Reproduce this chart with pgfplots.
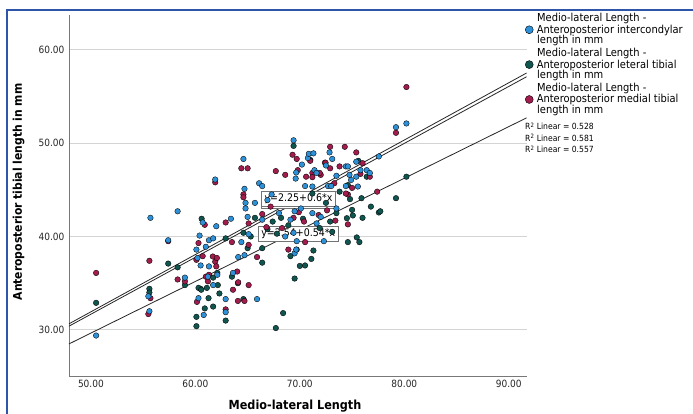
\documentclass[border=0pt]{standalone}
\usepackage{pgfplots}
\pgfplotsset{compat=1.18}
\usepackage{fontspec}
\setmainfont{DejaVu Sans Condensed}
\definecolor{cblue}{RGB}{46,145,215}
\definecolor{cteal}{RGB}{16,86,80}
\definecolor{cred}{RGB}{163,28,78}
\definecolor{frameblue}{RGB}{45,85,170}
\definecolor{axgray}{RGB}{120,120,120}
\definecolor{gridgray}{RGB}{212,212,212}
\newcommand\lt{\rule[-3.3pt]{0pt}{11.6pt}}
\begin{document}
\begin{tikzpicture}[x=1pt,y=1pt]
\useasboundingbox (0,0) rectangle (693,414);
\fill[white] (0,0) rectangle (693,414);
\draw[frameblue, line width=1.2pt] (7,0) -- (7,404) -- (693,404);
\begin{axis}[
 at={(66,40)}, anchor=south west, scale only axis, width=457.6pt, height=362pt,
 xmin=47.9, xmax=91.7, ymin=25, ymax=63.75,
 axis x line*=bottom, axis y line*=left,
 axis line style={draw=axgray, line width=0.9pt, -},
 xtick={50,60,70,80,90}, xticklabels={50.00,60.00,70.00,80.00,90.00},
 ytick={30,40,50,60}, yticklabels={30.00,40.00,50.00,60.00},
 major tick length=0pt,
 ymajorgrids, grid style={draw=gridgray, line width=1pt},
 ticklabel style={font=\fontsize{10}{12}\selectfont, text=black!85},
 xticklabel style={yshift=0pt},
 yticklabel style={xshift=-1pt},
 legend image code/.code={\draw[#1] plot coordinates {(0pt,0pt)};},
 legend style={at={(1,1)}, anchor=north west, xshift=-1.5pt, yshift=-10pt,
   draw=none, fill=none, inner sep=0pt, row sep=25pt, column sep=3.5pt,
   font=\fontsize{11}{12}\selectfont, nodes={inner sep=0pt}},
 legend cell align=left,
 mdot/.style={only marks, mark=*, mark size=2.8pt, mark options={draw=black, line width=0.35pt, fill=#1}},
]
\addlegendimage{only marks, mark=*, mark size=4pt, mark options={draw=black, line width=0.4pt, fill=cblue}}
\addlegendentry{\lt Anteroposterior intercondylar}
\addlegendimage{only marks, mark=*, mark size=4pt, mark options={draw=black, line width=0.4pt, fill=cteal}}
\addlegendentry{\lt Anteroposterior leteral tibial}
\addlegendimage{only marks, mark=*, mark size=4pt, mark options={draw=black, line width=0.4pt, fill=cred}}
\addlegendentry{\lt Anteroposterior medial tibial}

\addplot[forget plot, black!85, line width=0.8pt] coordinates {(47.9,30.65) (91.7,57.5)};
\addplot[forget plot, black!85, line width=0.8pt] coordinates {(47.9,30.4) (91.7,57.1)};
\addplot[forget plot, black!85, line width=0.8pt] coordinates {(47.9,28.5) (91.7,52.7)};

% teal
\addplot[forget plot, mdot=cteal] coordinates {
(50.5,32.9) (55.6,34.4) (55.6,34.0) (57.4,37.1) (58.3,36.7) (59.0,34.8) (60.1,31.4) (60.1,30.4)
(60.5,34.4) (60.3,34.5) (60.56,34.3) (60.6,41.9) (60.9,32.3) (61.1,34.5) (61.26,33.4) (61.7,32.5)
(61.7,35.6) (62.1,36.1) (62.15,34.8) (62.3,33.9) (62.9,31.0) (62.9,39.8) (63.5,35.7) (64.07,35.0)
(64.6,33.3) (64.6,40.4) (65.0,38.75) (65.3,40.0) (65.7,42.0) (66.4,38.75) (66.4,37.2) (67.4,41.6)
(67.7,30.2) (68.4,31.8) (69.1,37.9) (69.5,35.5) (69.7,38.6) (70.0,36.85) (70.5,36.9) (71.1,37.6)
(71.3,38.5) (69.4,49.7) (71.0,48.2) (71.2,44.6) (72.5,43.6) (72.9,41.6) (73.1,40.5) (73.5,42.5)
(74.6,45.5) (74.5,41.96) (74.6,39.4) (75.0,42.85) (75.07,42.25) (75.45,39.9) (75.7,39.4) (75.9,44.1)
(76.4,46.4) (76.8,43.2) (77.56,42.57) (77.7,42.7) (79.2,44.1) (80.2,46.4) (75.6,48.1) (68.2,42.0)
(68.9,41.2) (70.3,41.9) (66.9,40.8) (67.8,40.3) (71.9,40.9) (73.8,44.8) (74.8,44.0) (76.0,42.0)
};
% red
\addplot[forget plot, mdot=cred] coordinates {
(50.5,36.1) (55.6,37.4) (55.7,33.4) (55.5,31.7) (57.4,39.5) (58.3,35.4) (59.0,35.2) (60.1,37.5)
(60.3,39.3) (60.15,33.0) (60.7,37.9) (60.9,41.25) (61.0,35.7) (61.3,35.9) (61.2,35.2) (61.67,37.86)
(61.9,37.3) (62.06,37.7) (62.0,36.8) (61.9,45.8) (62.9,32.2) (62.9,41.5) (63.5,39.4) (63.6,34.3)
(64.0,36.25) (64.1,35.1) (64.07,33.1) (64.7,33.1) (64.4,47.3) (65.0,47.3) (64.6,44.5) (64.6,44.2)
(65.1,39.1) (65.1,34.8) (65.1,41.4) (65.9,37.8) (66.4,42.4) (67.7,47.0) (68.6,46.6) (69.3,48.75)
(69.7,48.3) (69.8,47.1) (68.9,38.6) (70.5,39.4) (71.2,46.8) (72.0,46.6) (72.4,47.9) (72.9,49.6)
(72.9,47.3) (74.3,49.6) (74.6,44.5) (74.6,41.3) (75.0,45.2) (75.4,49.0) (75.8,46.7) (76.7,46.4)
(77.4,44.8) (79.2,51.1) (80.2,56.0) (70.99,48.1) (72.46,47.9) (73.8,47.5) (76.0,47.85) (70.6,46.4)
(71.2,46.35) (71.9,46.8) (73.3,45.7) (74.4,44.6) (69.4,42.0) (69.9,42.6) (70.4,41.6) (71.8,42.3)
(72.6,42.8) (73.4,41.7) (67.2,43.2) (66.8,41.0) (68.3,40.9)
};
% blue
\addplot[forget plot, mdot=cblue] coordinates {
(50.5,29.4) (55.7,42.0) (55.5,33.6) (55.6,32.0) (57.4,39.6) (58.3,42.7) (59.0,35.6) (60.1,38.6)
(60.4,40.1) (60.2,37.7) (60.5,36.9) (60.3,33.4) (60.7,41.5) (60.8,31.6) (61.0,38.9) (61.3,39.6)
(61.2,35.7) (61.7,39.8) (61.9,46.1) (62.0,41.1) (62.1,35.9) (61.7,34.8) (61.3,36.8) (62.9,31.9)
(62.9,33.3) (63.4,41.9) (63.6,36.1) (64.1,37.8) (64.6,48.3) (64.7,45.1) (64.8,43.6) (64.8,43.0)
(65.0,42.1) (65.1,40.25) (64.4,39.4) (64.7,38.0) (65.9,33.3) (66.1,45.7) (66.4,45.4) (65.7,43.6)
(66.4,41.8) (66.9,43.9) (67.3,44.5) (68.0,42.5) (68.6,40.0) (69.1,41.8) (69.7,39.5)
(69.5,42.7) (70.1,43.0) (69.5,38.2) (69.65,38.6) (69.4,50.3) (70.2,47.7) (70.77,48.4) (70.86,48.85)
(71.3,48.9) (71.4,47.1) (71.6,46.8) (69.65,46.85) (69.6,46.2) (70.5,45.4) (71.2,45.35) (71.2,42.5)
(71.6,41.4) (72.0,42.1) (72.3,39.5) (72.5,47.6) (72.7,45.4) (73.0,45.4) (72.84,49.0) (73.1,48.3)
(73.5,46.5) (74.4,47.5) (74.4,45.4) (74.75,46.6) (74.9,46.05) (75.4,48.0) (75.55,45.35) (74.6,47.5)
(75.4,46.4) (75.8,47.1) (76.4,47.1) (76.7,46.8) (77.56,48.57) (79.2,51.7) (80.2,52.1) (73.5,43.0)
};
\node[fill=white, draw=black!55, line width=0.8pt, inner xsep=3pt, inner ysep=2.5pt, font=\fontsize{10.5}{12}\selectfont] at (axis cs:69.85,40.28) {y=2.54+0.54*x};
\addplot[forget plot, mdot=cblue] coordinates {(69.4,40.4)};
\node[fill=white, draw=black!55, line width=0.8pt, inner xsep=3pt, inner ysep=2.5pt, font=\fontsize{10.5}{12}\selectfont] at (axis cs:69.87,43.8) {y=2.25+0.6*x};
\node[fill=white, draw=black!55, line width=0.8pt, inner xsep=3pt, inner ysep=2.5pt, font=\fontsize{10.5}{12}\selectfont] at (axis cs:69.87,44.07) {y=2.25+0.6*x};
\end{axis}
\begin{scope}[every node/.style={anchor=base west, inner sep=0pt, font=\fontsize{11}{12}\selectfont}]
\node at (537,392.7) {Medio-lateral Length -};
\node at (537,370.3) {length in mm};
\node at (537,357.7) {Medio-lateral Length -};
\node at (537,335.3) {length in mm};
\node at (537,322.7) {Medio-lateral Length -};
\node at (537,300.3) {length in mm};
\end{scope}
\node[rotate=90, font=\bfseries\fontsize{12}{14}\selectfont] at (18.5,222) {Anteroposterior tibial length in mm};
\node[font=\bfseries\fontsize{12.5}{14}\selectfont] at (295,8) {Medio-lateral Length};
\begin{scope}[every node/.style={anchor=base west, inner sep=0pt, font=\fontsize{8.5}{10}\selectfont}]
\node at (525,284) {R\textsuperscript{2} Linear = 0.528};
\node at (525,272.5) {R\textsuperscript{2} Linear = 0.581};
\node at (525,261) {R\textsuperscript{2} Linear = 0.557};
\end{scope}
\end{tikzpicture}
\end{document}
